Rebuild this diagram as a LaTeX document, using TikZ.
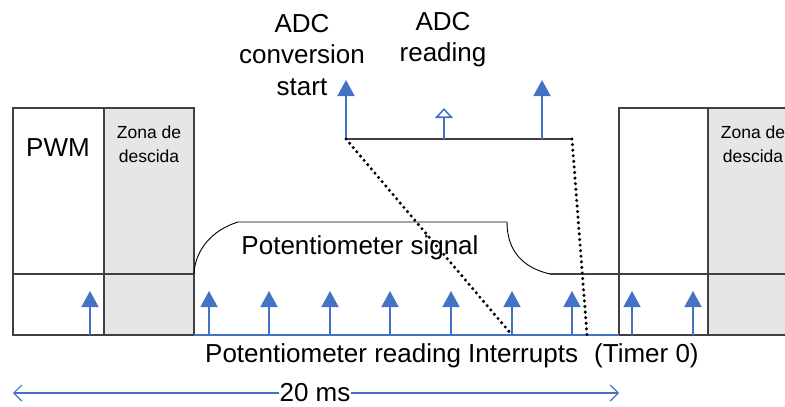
\documentclass[tikz,border=0pt]{standalone}
\usepackage{fontspec}
\setmainfont{Liberation Sans}
\usetikzlibrary{arrows.meta}
\definecolor{arrowblue}{HTML}{4472C4}
\definecolor{zonegrey}{HTML}{E6E6E6}
\definecolor{boxline}{HTML}{404040}
\begin{document}
\begin{tikzpicture}[x=1pt,y=-1pt,
  boxln/.style={draw=boxline,line width=1.3pt},
  sig/.style={draw=black,line width=0.9pt},
  tick/.style={draw=arrowblue,line width=1.6pt,-{Triangle[length=16pt,width=17pt]}},
  hollowtick/.style={draw=arrowblue,line width=1.6pt,-{Triangle[open,length=10pt,width=18pt,fill=white]}},
  dots/.style={line width=3.4pt,dash pattern=on 0pt off 5.6pt,line cap=round},
  dimarrow/.style={draw=arrowblue,line width=1.2pt,{Straight Barb[length=8pt,width=16pt]}-{Straight Barb[length=8pt,width=16pt]}},
  big/.style={font=\fontsize{26}{31.5}\selectfont,inner sep=0pt},
  small/.style={font=\fontsize{17.5}{24}\selectfont,inner sep=0pt,align=center},
]
\useasboundingbox (0,0) rectangle (785,407);
\clip (0,0) rectangle (785,407);
% grey zones
\fill[zonegrey] (104,108) rectangle (194,335);
\fill[zonegrey] (708,108) rectangle (800,335);
% left boxes
\draw[boxln] (13,108) rectangle (194,335);
\draw[boxln] (104,108) -- (104,335);
\draw[boxln] (13,274) -- (194,274);
% right boxes
\draw[boxln] (800,108) -- (619,108) -- (619,335);
\draw[boxln] (708,108) -- (708,335);
\draw[boxln] (550,274) -- (800,274);
% baseline
\draw[boxln] (13,335) -- (194,335);
\draw[boxln] (619,335) -- (800,335);
\draw[draw=arrowblue,line width=1.6pt] (194,335) -- (619,335);
% potentiometer signal
\draw[sig] (194,274) .. controls (195,250) and (212,230) .. (238,222) -- (507,222)
  .. controls (507,252) and (524,268) .. (550,274);
% texts
\node[big] (pwm) at (58,148) {PWM};
\node[small] (zonal) at (149,144) {Zona de\\descida};
\node[small] (zonar) at (753,144) {Zona de\\descida};
\node[big] (potsig) at (360,248) {Potentiometer signal};
\node[big,align=center] (adcstart) at (302,55) {ADC\\conversion\\start};
\node[big,align=center] (adcread) at (443,39.5) {ADC\\reading};
\node[big,anchor=west] (potread) at (205,356) {Potentiometer reading Interrupts};
\node[big,anchor=west] (timer) at (594,356) {(Timer 0)};
% timer ticks
\foreach \x [count=\i] in {90,209,269,330,390,451,512,572,632,693} {
  \coordinate (b\i) at (\x,335);
  \draw[tick] (b\i) -- ++(0,-44);
}
% ADC line and ticks
\coordinate (a1) at (346,139);
\coordinate (a2) at (444,139);
\coordinate (a3) at (542,139);
\coordinate (a4) at (572,139);
\draw[boxln] (a1) -- (a4);
\draw[tick] (a1) -- ++(0,-59);
\draw[tick] (a3) -- ++(0,-59);
\draw[hollowtick] (a2) -- ++(0,-31);
% dotted projections
\coordinate (d2) at (587,335);
\draw[dots] (a1) -- (b7);
\draw[dots] (a4) -- (d2);
% 20 ms
\coordinate (ml) at (13,393);
\coordinate (mr) at (619,393);
\draw[dimarrow] (ml) -- (mr);
\node[big,fill=white,inner xsep=1pt,inner ysep=2pt] (ms) at (315,393) {20 ms};
\end{tikzpicture}
\end{document}
